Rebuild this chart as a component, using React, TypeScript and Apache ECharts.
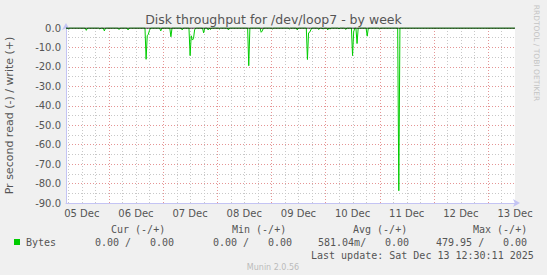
import React, { useEffect, useRef } from "react";
import * as echarts from "echarts";

// Hours relative to 06 Dec 00:00
const startHour = -19;
const endHour = 180;

// Read (negative) samples that differ from zero
const dipHours = [
  -18, -10, -4, -2, 4.5, 8.5, 16.5, 17, 17.5, 18, 23, 27.5, 32.5, 36, 36.5, 37, 37.5, 38,
  42, 44, 45, 49, 53, 62, 67.5, 68, 72.5, 80, 83.5, 88, 88.5, 89, 89.5, 93, 95, 97, 98,
  102, 105, 108, 108.5, 110, 114.5, 120, 128.5,
];
const dipValues = [
  -0.5, -1.2, -0.5, -1.5, -0.8, -1, -16.1, -4, -3.2, -1.2, -1.5, -4.5, -1, -14.2, -4, -6.2, -5.5, -1,
  -2.5, -1, -0.8, -0.5, -1, -19.4, -2.2, -1.5, -0.5, -0.5, -1, -16.2, -2.5, -2.2, -1, -0.8, -0.6, -1, -0.6,
  -0.5, -0.8, -14.2, -2, -8, -4.2, -0.5, -83.7,
];

const dayLabels = ["05 Dec", "06 Dec", "07 Dec", "08 Dec", "09 Dec", "10 Dec", "11 Dec", "12 Dec", "13 Dec"];
const dayLabelHours = [-12, 12, 36, 60, 84, 108, 132, 156, 180];
const midnightHours = [0, 24, 48, 72, 96, 120, 144, 168];
const sixHourGrid = [-18, -12, -6, 6, 12, 18, 30, 36, 42, 54, 60, 66, 78, 84, 90, 102, 108, 114, 126, 132, 138, 150, 156, 162, 174];

const legendHeaders = ["Cur (-/+)", "Min (-/+)", "Avg (-/+)", "Max (-/+)"];
const legendValues = ["0.00 /", "0.00", "0.00 /", "0.00", "581.04m/", "0.00", "479.95 /", "0.00"];

function buildSeries(): number[][] {
  const pts: number[][] = [[startHour, 0]];
  for (let i = 0; i < dipHours.length; i++) {
    const h = dipHours[i];
    const last = pts[pts.length - 1];
    if (last[0] < h - 0.5) pts.push([h - 0.5, 0]);
    pts.push([h, dipValues[i]]);
    const next = i + 1 < dipHours.length ? dipHours[i + 1] : endHour;
    if (next > h + 0.5) pts.push([h + 0.5, 0]);
  }
  pts.push([endHour, 0]);
  return pts;
}

const MAJOR = "rgba(225,130,130,0.85)";
const MINOR = "#c8c8c8";

function vGrid(color: string) {
  return (params: any, api: any) => {
    const h = api.value(0);
    const p1 = api.coord([h, 0]);
    const p2 = api.coord([h, -90]);
    return {
      type: "line",
      shape: { x1: Math.round(p1[0]) + 0.5, y1: p1[1], x2: Math.round(p2[0]) + 0.5, y2: p2[1] },
      style: { stroke: color, lineWidth: 1, lineDash: [1, 2] },
      silent: true,
    };
  };
}

export default function App() {
  const ref = useRef<HTMLDivElement>(null);
  useEffect(() => {
    if (!ref.current) return;
    const chart = echarts.init(ref.current, null, { renderer: "svg" });
    const font = '"DejaVu Sans", sans-serif';
    const mono = '10px "DejaVu Sans Mono", monospace';
    const graphic: any[] = [];
    const hdrX = [111, 232, 353, 473];
    legendHeaders.forEach((t, i) =>
      graphic.push({ type: "text", x: hdrX[i], y: 229, style: { text: t, font: mono, fill: "#555", verticalAlign: "middle" } })
    );
    const valX = [95, 150, 213, 268, 318, 385, 436, 503];
    legendValues.forEach((t, i) =>
      graphic.push({ type: "text", x: valX[i], y: 242, style: { text: t, font: mono, fill: "#555", verticalAlign: "middle" } })
    );
    graphic.push({ type: "rect", shape: { x: 14, y: 239, width: 6, height: 6 }, style: { fill: "#00cc00" } });
    graphic.push({ type: "text", x: 26, y: 242, style: { text: "Bytes", font: mono, fill: "#555", verticalAlign: "middle" } });
    graphic.push({
      type: "text", x: 311, y: 255,
      style: { text: "Last update: Sat Dec 13 12:30:11 2025", font: mono, fill: "#555", verticalAlign: "middle" },
    });
    graphic.push({
      type: "text", x: 273, y: 267,
      style: { text: "Munin 2.0.56", font: '8px "DejaVu Sans", sans-serif', fill: "#bbb", align: "center", verticalAlign: "middle" },
    });
    graphic.push({
      type: "text", x: 536, y: 53, rotation: -Math.PI / 2,
      style: { text: "RRDTOOL / TOBI OETIKER", font: '7.5px "DejaVu Sans", sans-serif', fill: "#c4c4c4", align: "center", verticalAlign: "middle" },
    });

    chart.setOption({
      animation: false,
      backgroundColor: "#f0f0f0",
      title: {
        text: "Disk throughput for /dev/loop7 - by week",
        left: "center",
        top: 13,
        padding: 0,
        textStyle: { fontSize: 12.5, fontWeight: "normal", color: "#555", fontFamily: font },
      },
      grid: {
        left: 66, right: 32, top: 28, bottom: 72,
        containLabel: false, outerBoundsMode: "none",
        show: true, backgroundColor: "#ffffff", borderWidth: 0,
      },
      xAxis: {
        type: "value",
        min: startHour,
        max: endHour,
        splitLine: { show: false },
        axisTick: { show: false },
        axisLine: { show: true, onZero: false, lineStyle: { color: "#c4c4f4" }, symbol: ["none", "arrow"], symbolSize: [6, 7], symbolOffset: [0, 5] },
        axisLabel: {
          customValues: dayLabelHours,
          formatter: (v: number) => {
            const i = dayLabelHours.indexOf(Math.round(v));
            return i >= 0 ? dayLabels[i] : "";
          },
          color: "#555",
          fontSize: 10,
          fontFamily: font,
          margin: 5,
        },
      },
      yAxis: {
        type: "value",
        min: -90,
        max: 0,
        interval: 10,
        name: "Pr second read (-) / write (+)",
        nameLocation: "middle",
        nameRotate: 90,
        nameGap: 51,
        nameTextStyle: { fontSize: 11, color: "#555", fontFamily: font },
        axisLine: { show: true, onZero: false, lineStyle: { color: "#c4c4f4" }, symbol: ["none", "arrow"], symbolSize: [6, 7], symbolOffset: [0, 5] },
        axisTick: { show: false },
        axisLabel: { formatter: (v: number) => v.toFixed(1), color: "#555", fontSize: 10, fontFamily: font, margin: 5 },
        splitLine: { show: true, lineStyle: { color: MAJOR, type: [1, 2] } },
        minorTick: { show: false, splitNumber: 2 },
        minorSplitLine: { show: true, lineStyle: { color: MINOR, type: [1, 2] } },
      },
      series: [
        {
          type: "custom",
          z: 1,
          silent: true,
          data: sixHourGrid.map((h) => [h]),
          renderItem: vGrid(MINOR),
        },
        {
          type: "custom",
          z: 1,
          silent: true,
          data: midnightHours.map((h) => [h]),
          renderItem: vGrid(MAJOR),
        },
        {
          name: "Bytes",
          type: "line",
          z: 3,
          data: buildSeries(),
          showSymbol: false,
          lineStyle: { color: "#00cc00", width: 1 },
        },
        {
          type: "line",
          z: 4,
          data: [[startHour, 0], [endHour, 0]],
          showSymbol: false,
          lineStyle: { color: "#000", width: 1 },
        },
      ],
      graphic,
    });
    return () => chart.dispose();
  }, []);
  return <div ref={ref} style={{ position: "fixed", left: 0, top: 0, width: 547, height: 275 }} />;
}
